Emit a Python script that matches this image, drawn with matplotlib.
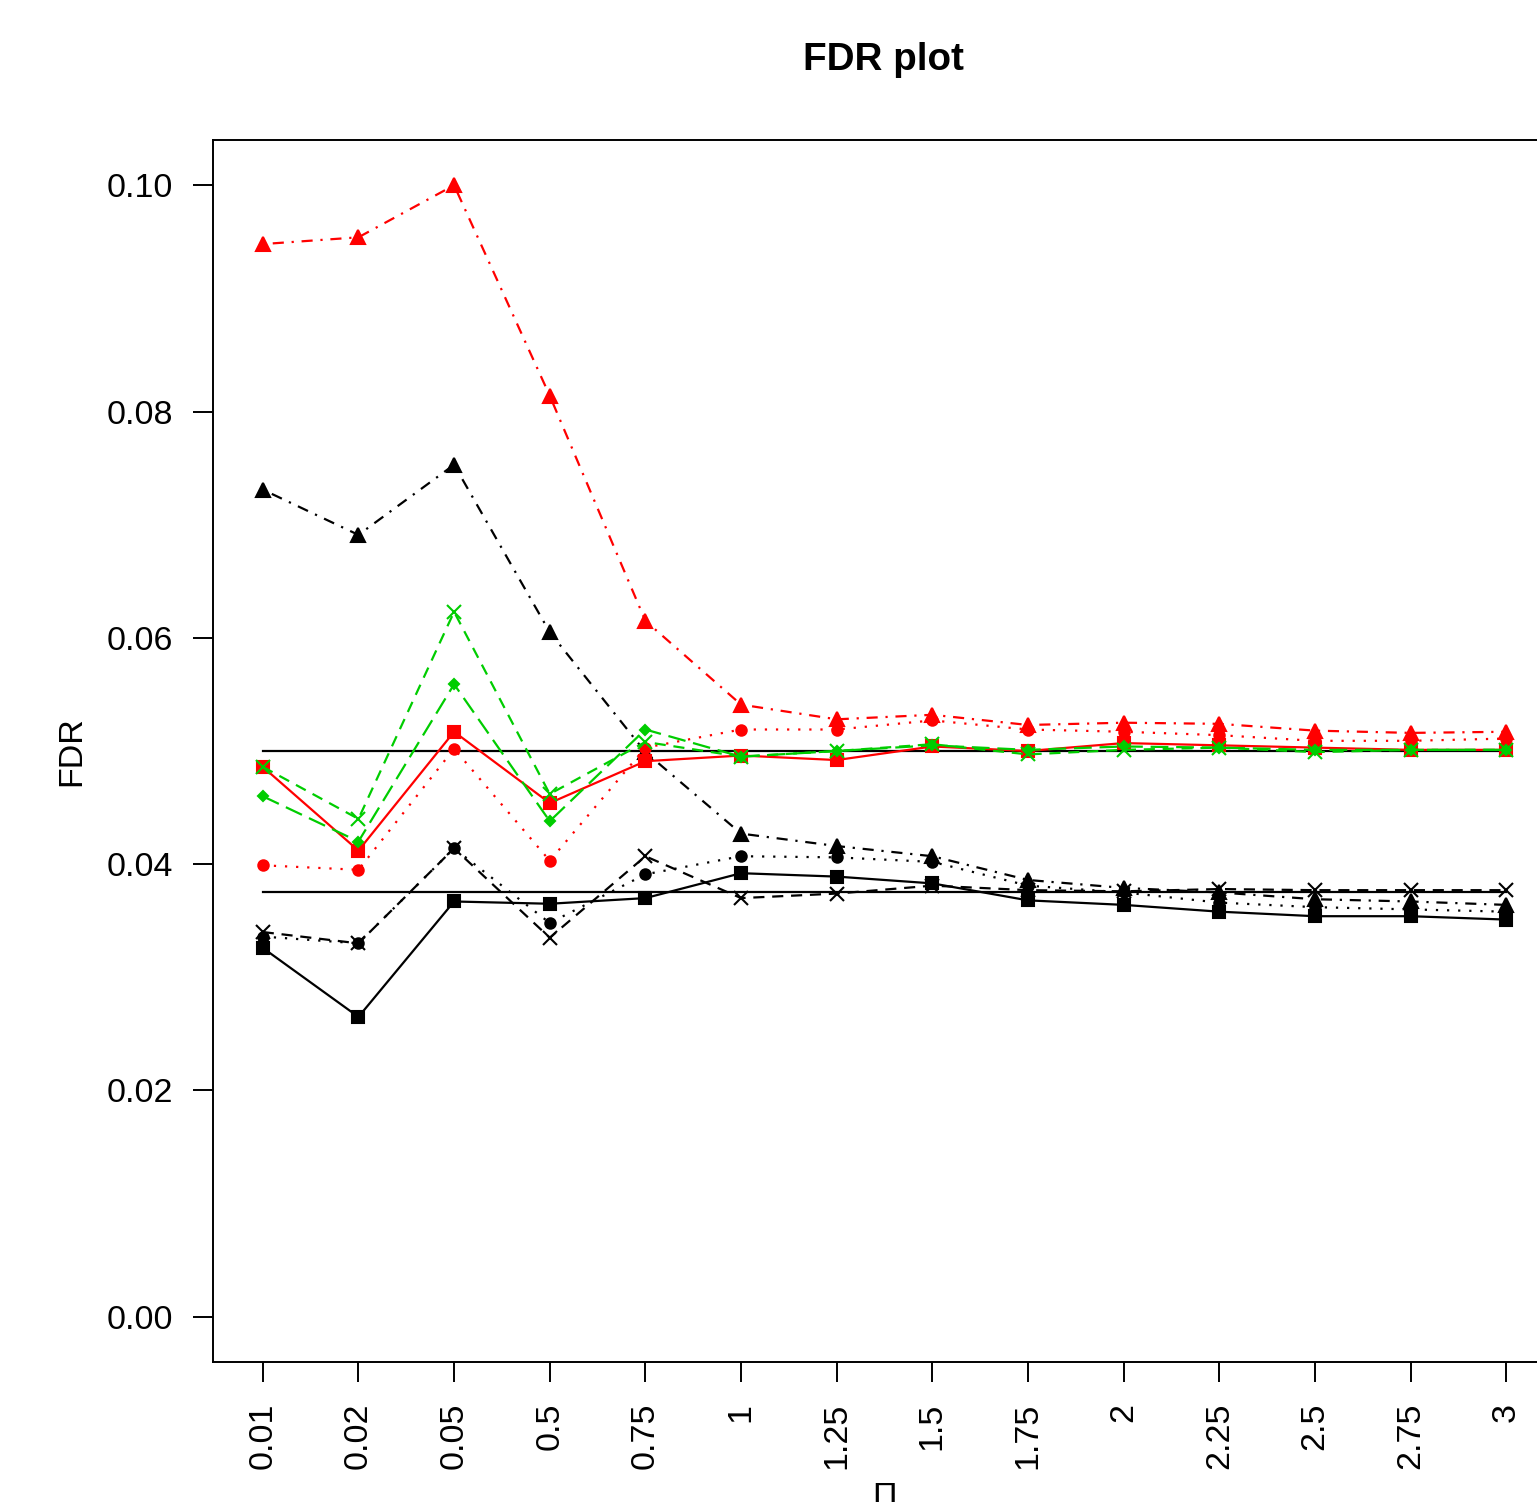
import numpy as np
import matplotlib
matplotlib.use('Agg')
import matplotlib.pyplot as plt

plt.rcParams['font.family'] = ['Liberation Sans', 'DejaVu Sans']

pi_labels = ['0.01', '0.02', '0.05', '0.5', '0.75', '1', '1.25', '1.5',
             '1.75', '2', '2.25', '2.5', '2.75', '3']
xpos = np.arange(1, len(pi_labels) + 1)

# black series
blk_square = [0.0326, 0.0265, 0.0367, 0.0365, 0.0370, 0.0392, 0.0389, 0.0383,
              0.0368, 0.0364, 0.0358, 0.0354, 0.0354, 0.0351]
blk_circle = [0.0336, 0.0330, 0.0414, 0.0348, 0.0391, 0.0407, 0.0406, 0.0402,
              0.0381, 0.0375, 0.0366, 0.0362, 0.0360, 0.0358]
blk_cross = [0.0340, 0.0330, 0.0414, 0.0335, 0.0407, 0.0370, 0.0374, 0.0381,
             0.0377, 0.0376, 0.0378, 0.0377, 0.0377, 0.0377]
blk_tri = [0.0731, 0.0691, 0.0753, 0.0605, 0.0499, 0.0427, 0.0416, 0.0407,
           0.0386, 0.0379, 0.0375, 0.0369, 0.0367, 0.0364]

# red series
red_square = [0.0486, 0.0412, 0.0517, 0.0454, 0.0491, 0.0496, 0.0492, 0.0504,
              0.0500, 0.0507, 0.0505, 0.0503, 0.0501, 0.0501]
red_circle = [0.0399, 0.0395, 0.0502, 0.0403, 0.0503, 0.0519, 0.0519, 0.0527,
              0.0519, 0.0517, 0.0514, 0.0509, 0.0509, 0.0511]
red_tri = [0.0948, 0.0954, 0.1000, 0.0814, 0.0615, 0.0541, 0.0528, 0.0532,
           0.0523, 0.0525, 0.0524, 0.0518, 0.0516, 0.0517]

# green series
grn_cross = [0.0486, 0.0440, 0.0623, 0.0462, 0.0508, 0.0495, 0.0500, 0.0506,
             0.0497, 0.0501, 0.0503, 0.0499, 0.0501, 0.0501]
grn_diam = [0.0460, 0.0420, 0.0559, 0.0438, 0.0519, 0.0495, 0.0500, 0.0505,
            0.0501, 0.0504, 0.0503, 0.0501, 0.0501, 0.0501]

ref_levels = [0.05, 0.0375]

green = '#00CD00'
lw = 1.6
solid = (None, None)
dashed = (5, 3.5)
longdash = (8, 3.5)
dotted = (1, 4)
dotdash = (1, 3.5, 5, 3.5)

fig = plt.figure(figsize=(15.37, 15.02), dpi=100)
fig.patch.set_facecolor('white')
ax = fig.add_axes([0.1386, 0.0932, 0.8738, 0.8136])

for lev in ref_levels:
    ax.plot([xpos[0], xpos[-1]], [lev, lev], color='black', lw=lw)

def draw(y, col, marker, ms, dash, mew=1.5):
    line, = ax.plot(xpos, y, color=col, lw=lw, marker=marker, ms=ms,
                    mew=mew, mfc=col, mec=col)
    if dash[0] is not None:
        line.set_dashes(dash)

draw(blk_square, 'black', 's', 8, solid)
draw(blk_circle, 'black', 'o', 7.5, dotted)
draw(blk_cross, 'black', 'x', 9.5, dashed)
draw(blk_tri, 'black', '^', 10, dotdash)
draw(red_square, 'red', 's', 8, solid)
draw(red_circle, 'red', 'o', 7.5, dotted)
draw(red_tri, 'red', '^', 10, dotdash)
draw(grn_cross, green, 'x', 9.5, dashed)
draw(grn_diam, green, 'D', 5, longdash)

ax.set_xlim(0.48, 14.52)
ax.set_ylim(-0.004, 0.104)
ax.set_xticks(xpos)
ax.set_xticklabels(pi_labels, rotation=90)
ax.set_yticks([0.0, 0.02, 0.04, 0.06, 0.08, 0.10])
ax.set_yticklabels(['0.00', '0.02', '0.04', '0.06', '0.08', '0.10'])
ax.tick_params(axis='both', labelsize=24.5, length=14.5, width=1.4, direction='out')
ax.tick_params(axis='x', pad=15)
ax.tick_params(axis='y', pad=14)
for s in ax.spines.values():
    s.set_linewidth(1.4)

ax.set_ylabel('FDR', fontsize=24.5, labelpad=14)
ax.set_xlabel('\u03a0', fontsize=24.5, labelpad=9)

fig.text(0.5751, 0.960, 'FDR plot', fontsize=27.8, fontweight='bold',
         ha='center', va='center')

fig.savefig('out.png', dpi=100, facecolor='white')
